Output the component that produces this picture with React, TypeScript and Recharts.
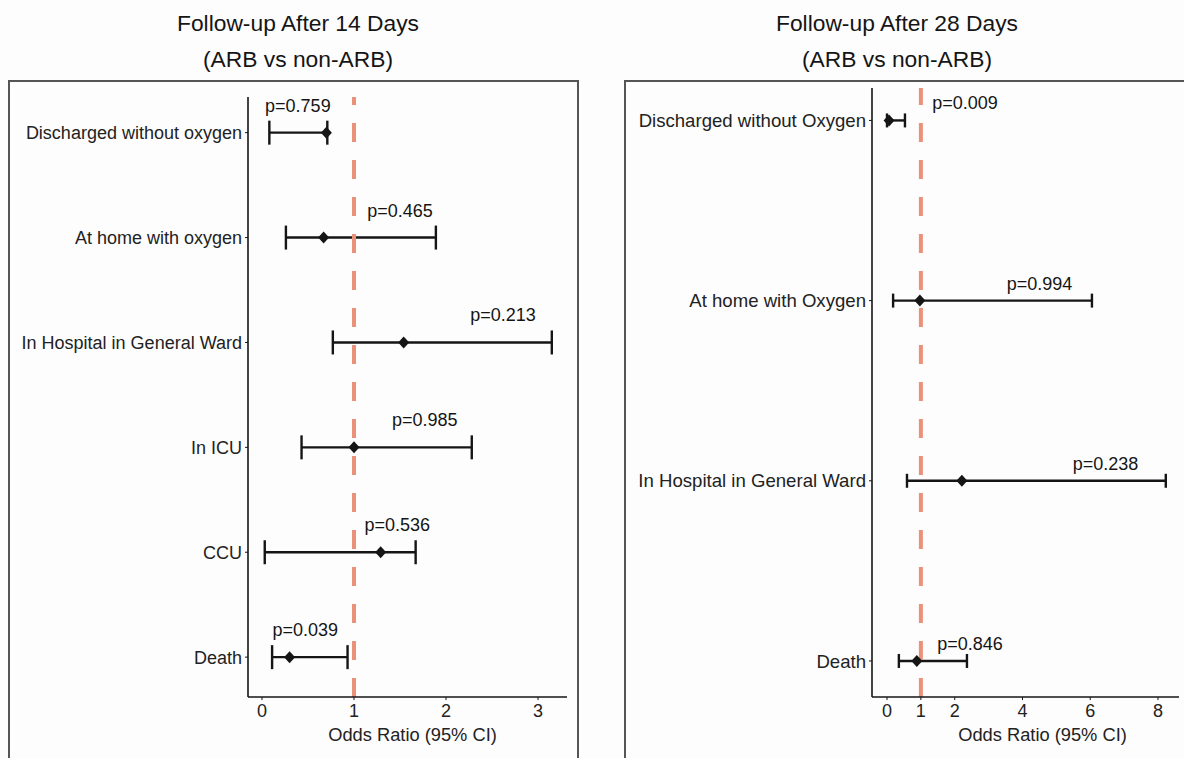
import { ScatterChart, Scatter, XAxis, YAxis, ErrorBar, ReferenceLine } from 'recharts';

// 14-day follow-up (top to bottom)
const outcomes14 = [
  'Discharged without oxygen',
  'At home with oxygen',
  'In Hospital in General Ward',
  'In ICU',
  'CCU',
  'Death',
];
const oddsRatio14 = [0.7, 0.67, 1.54, 1.0, 1.29, 0.3];
const lower14 = [0.08, 0.26, 0.77, 0.43, 0.03, 0.11];
const upper14 = [0.71, 1.89, 3.15, 2.28, 1.67, 0.93];
const pValues14 = ['p=0.759', 'p=0.465', 'p=0.213', 'p=0.985', 'p=0.536', 'p=0.039'];
const pLabelAt14 = [0.39, 1.5, 2.62, 1.77, 1.47, 0.47];
const ticks14 = [0, 1, 2, 3];

// 28-day follow-up (top to bottom)
const outcomes28 = [
  'Discharged without Oxygen',
  'At home with Oxygen',
  'In Hospital in General Ward',
  'Death',
];
const oddsRatio28 = [0.06, 0.97, 2.21, 0.88];
const lower28 = [0.0, 0.18, 0.59, 0.35];
const upper28 = [0.53, 6.05, 8.23, 2.36];
const pValues28 = ['p=0.009', 'p=0.994', 'p=0.238', 'p=0.846'];
const pLabelAt28 = [2.3, 4.5, 6.45, 2.45];
const ticks28 = [0, 1, 2, 4, 6, 8];

const FONT = '"Liberation Sans", Arial, sans-serif';
const INK = '#151515';
const REF = '#ea9279';

const Diamond = (props: any) => {
  const { cx, cy } = props;
  if (cx == null || cy == null) return null;
  return (
    <polygon
      points={`${cx},${cy - 6} ${cx + 5.5},${cy} ${cx},${cy + 6} ${cx - 5.5},${cy}`}
      fill={INK}
    />
  );
};

const makePLabel = (lift: number) => (props: any) => {
  const { cx, cy } = props;
  const text = props.payload?.text ?? props.text;
  if (cx == null || cy == null) return null;
  return (
    <text x={cx} y={cy - lift} textAnchor="middle" dominantBaseline="central" fontSize={18} fill={INK} fontFamily={FONT}>
      {text}
    </text>
  );
};

type PanelProps = {
  outcomes: string[];
  oddsRatio: number[];
  lower: number[];
  upper: number[];
  pValues: string[];
  pLabelAt: number[];
  ticks: number[];
  xDomain: [number, number];
  yDomain: [number, number];
  width: number;
  yAxisWidth: number;
  marginTop: number;
  marginRight: number;
  capWidth: number;
  pLift: number;
  rowFont: number;
  titleShift: number;
};

function ForestPanel(p: PanelProps) {
  const n = p.outcomes.length;
  const points = p.outcomes.map((name, i) => ({
    name,
    y: n - 1 - i,
    x: p.oddsRatio[i],
    err: [p.oddsRatio[i] - p.lower[i], p.upper[i] - p.oddsRatio[i]],
  }));
  const labels = p.outcomes.map((_, i) => ({ y: n - 1 - i, x: p.pLabelAt[i], text: p.pValues[i] }));
  const rowTicks = p.outcomes.map((_, i) => i);

  return (
    <ScatterChart
      width={p.width}
      height={677}
      margin={{ top: p.marginTop, right: p.marginRight, bottom: 11, left: 0 }}
      style={{ fontFamily: FONT }}
    >
      <XAxis
        type="number"
        dataKey="x"
        domain={p.xDomain}
        ticks={p.ticks}
        allowDataOverflow
        height={50}
        axisLine={{ stroke: INK, strokeWidth: 1.6 }}
        tickLine={{ stroke: INK }}
        tickSize={3}
        tickMargin={4}
        tick={{ fontSize: 18, fill: '#222' }}
        label={{ value: 'Odds Ratio (95% CI)', position: 'insideBottom', offset: 6, dx: p.titleShift, fontSize: 18.3, fill: '#222' }}
      />
      <YAxis
        type="number"
        dataKey="y"
        domain={p.yDomain}
        ticks={rowTicks}
        allowDataOverflow
        width={p.yAxisWidth}
        axisLine={{ stroke: INK, strokeWidth: 1.6 }}
        tickLine={{ stroke: INK }}
        tickSize={3}
        tickMargin={3}
        tick={{ fontSize: p.rowFont, fill: '#222' }}
        tickFormatter={(v: number) => p.outcomes[n - 1 - v] ?? ''}
      />
      <Scatter data={points} shape={<Diamond />} isAnimationActive={false}>
        <ErrorBar dataKey="err" direction="x" width={p.capWidth} stroke={INK} strokeWidth={2.4} />
      </Scatter>
      <ReferenceLine x={1} stroke={REF} strokeWidth={4} strokeDasharray="19 18" />
      <Scatter data={labels} shape={makePLabel(p.pLift)} isAnimationActive={false} />
    </ScatterChart>
  );
}

const titleStyle = (centerX: number): React.CSSProperties => ({
  position: 'absolute',
  left: centerX - 250,
  width: 500,
  top: 5,
  textAlign: 'center',
  fontSize: 22.8,
  lineHeight: '36px',
  color: INK,
  fontFamily: FONT,
});

export default function App() {
  return (
    <div style={{ position: 'fixed', left: 0, top: 0, width: 1184, height: 758, background: '#fdfdfd', overflow: 'hidden' }}>
      <div style={titleStyle(298)}>
        Follow-up After 14 Days
        <br />
        (ARB vs non-ARB)
      </div>
      <div style={titleStyle(897)}>
        Follow-up After 28 Days
        <br />
        (ARB vs non-ARB)
      </div>

      <div style={{ position: 'absolute', left: 8, top: 80, width: 571, height: 700, border: '2px solid #555', boxSizing: 'border-box' }} />
      <div style={{ position: 'absolute', left: 624, top: 80, width: 600, height: 700, border: '2px solid #555', boxSizing: 'border-box' }} />

      <div style={{ position: 'absolute', left: 9, top: 81 }}>
        <ForestPanel
          outcomes={outcomes14}
          oddsRatio={oddsRatio14}
          lower={lower14}
          upper={upper14}
          pValues={pValues14}
          pLabelAt={pLabelAt14}
          ticks={ticks14}
          xDomain={[-0.152, 3.315]}
          yDomain={[-0.38, 5.34]}
          width={570}
          yAxisWidth={239}
          marginTop={16}
          marginRight={12}
          capWidth={12}
          pLift={27}
          rowFont={18}
          titleShift={5}
        />
      </div>
      <div style={{ position: 'absolute', left: 626, top: 81 }}>
        <ForestPanel
          outcomes={outcomes28}
          oddsRatio={oddsRatio28}
          lower={lower28}
          upper={upper28}
          pValues={pValues28}
          pLabelAt={pLabelAt28}
          ticks={ticks28}
          xDomain={[-0.443, 8.62]}
          yDomain={[-0.2, 3.18]}
          width={558}
          yAxisWidth={246}
          marginTop={7}
          marginRight={5}
          capWidth={7}
          pLift={17}
          rowFont={18.6}
          titleShift={17}
        />
      </div>
    </div>
  );
}
